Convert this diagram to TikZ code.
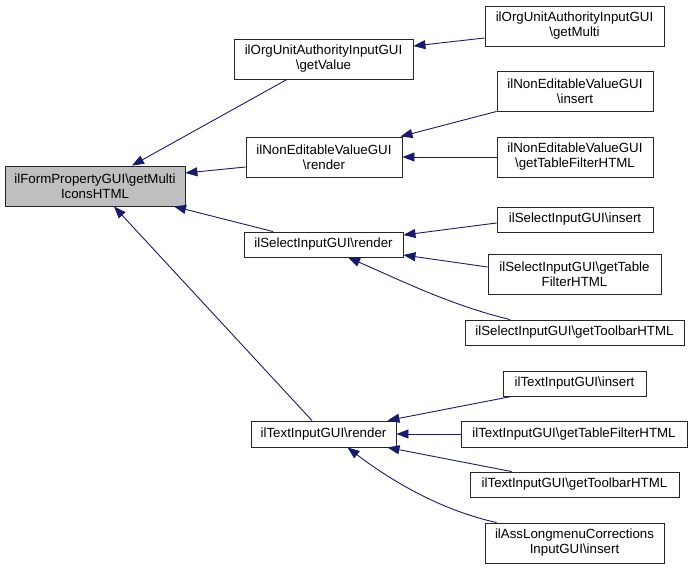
\documentclass[tikz,border=0pt]{standalone}
\usepackage{fontspec}
\setmainfont{Liberation Sans}
\usetikzlibrary{arrows.meta,calc}
\definecolor{edgec}{RGB}{25,25,112}
\definecolor{rootfill}{RGB}{191,191,191}
\tikzset{
  box/.style={draw=black!85, line width=0.9pt, fill=white, inner sep=0pt, align=center,
    font=\fontsize{13.3}{15}\selectfont},
  rootbox/.style={box, fill=rootfill},
  arr/.style={draw=edgec, line width=0.9pt, {Triangle[length=12pt,width=9pt,fill=edgec]}-}
}
\newcommand{\bx}[7][box]{\node[#1, minimum width={(#5-#3)*1pt}, minimum height={(#6-#4)*1pt}] (#2) at ({(#3+#5)/2},{(#4+#6)/2}) {#7};}
\begin{document}
\begin{tikzpicture}[x=1pt,y=-1pt]
\useasboundingbox (0,0) rectangle (693,569);
\bx[rootbox]{root}{5}{166}{185}{206}{ilFormPropertyGUI\textbackslash getMulti\\IconsHTML}
\bx{gv}{234}{39}{413}{79}{ilOrgUnitAuthorityInputGUI\\\textbackslash getValue}
\bx{nevr}{246}{137}{402}{177}{ilNonEditableValueGUI\\\textbackslash render}
\bx{selr}{244}{232}{403}{257}{ilSelectInputGUI\textbackslash render}
\bx{txtr}{251}{421}{396}{447}{ilTextInputGUI\textbackslash render}
\bx{gm}{485}{6}{664}{46}{ilOrgUnitAuthorityInputGUI\\\textbackslash getMulti}
\bx{nevi}{497}{71}{653}{111}{ilNonEditableValueGUI\\\textbackslash insert}
\bx{nevt}{497}{137}{653}{177}{ilNonEditableValueGUI\\\textbackslash getTableFilterHTML}
\bx{seli}{497}{207}{653}{232}{ilSelectInputGUI\textbackslash insert}
\bx{selt}{488}{254}{661}{294}{ilSelectInputGUI\textbackslash getTable\\FilterHTML}
\bx{selb}{465}{320}{684}{345}{ilSelectInputGUI\textbackslash getToolbarHTML}
\bx{txti}{503}{371}{646}{396}{ilTextInputGUI\textbackslash insert}
\bx{txtt}{461}{421}{687}{447}{ilTextInputGUI\textbackslash getTableFilterHTML}
\bx{txtb}{470}{472}{679}{497}{ilTextInputGUI\textbackslash getToolbarHTML}
\bx{ass}{485}{523}{664}{563}{ilAssLongmenuCorrections\\InputGUI\textbackslash insert}
% edges
\draw[arr] ($(root.north)+(37,0)$) -- ($(gv.south)+(-36.5,0)$);
\draw[arr] ($(root.east)+(0,-13)$) -- ($(nevr.west)+(0,10)$);
\draw[arr] ($(root.south)+(79,0)$) -- ($(selr.north)+(-50.5,0)$);
\draw[arr] ($(root.south)+(19,0)$) -- ($(txtr.north)+(-11.5,0)$);
\draw[arr] ($(gv.east)+(0,-13)$) -- ($(gm.west)+(0,12)$);
\draw[arr] ($(nevr.north east)+(-2,0)$) -- (nevi.south west);
\draw[arr] (nevr.east) -- (nevt.west);
\draw[arr] ($(selr.east)+(0,-9.5)$) -- ($(seli.west)+(0,3.5)$);
\draw[arr] ($(selr.east)+(0,10.5)$) -- ($(selt.west)+(0,-7)$);
\draw[arr] ($(selr.south)+(24.5,0)$) .. controls (400,280) and (450,305) .. ($(selb.north)+(-64.5,0)$);
\draw[arr] ($(txtr.north east)+(-9,0)$) -- ($(txti.south west)+(9,0)$);
\draw[arr] (txtr.east) -- (txtt.west);
\draw[arr] ($(txtr.south east)+(-9,0)$) -- ($(txtb.north west)+(42,0)$);
\draw[arr] ($(txtr.south)+(24,0)$) .. controls (390,480) and (440,510) .. ($(ass.north west)+(12,0)$);
\end{tikzpicture}
\end{document}
